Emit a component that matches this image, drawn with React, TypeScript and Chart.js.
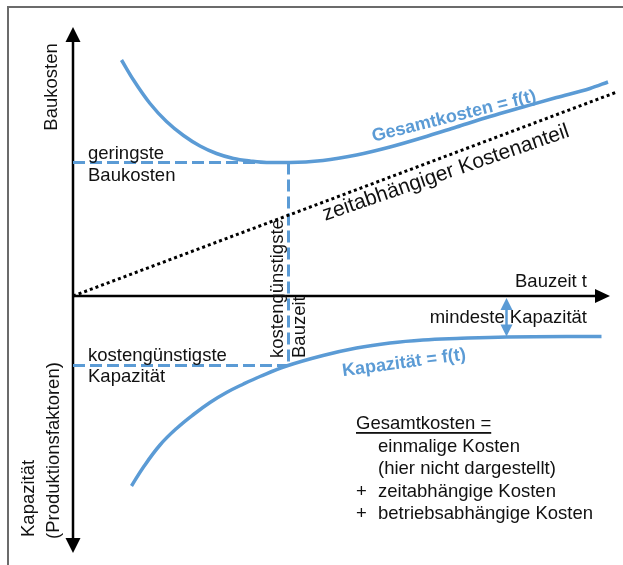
import React, { useEffect, useRef } from "react";
import { Chart, registerables } from "chart.js";
Chart.register(...registerables);

// Bauzeit t (x) and cost / capacity values (y), read from the schematic
const totalCostT = [9.7, 12.1, 15.4, 18.7, 22.1, 25.4, 28.7, 32.1, 35.4, 38.7, 43.4, 50.0, 56.7, 63.4, 70.0, 76.7, 83.4, 90.0, 96.7, 103.4, 107.0];
const totalCostV = [47.2, 43.2, 38.5, 34.9, 32.1, 30.0, 28.5, 27.5, 27.0, 26.7, 26.7, 27.1, 28.2, 29.8, 31.7, 33.8, 35.9, 37.8, 39.7, 41.5, 42.8];

const capacityT = [11.7, 14.1, 17.4, 20.7, 24.1, 27.4, 30.7, 34.1, 37.4, 42.7, 50.0, 56.7, 63.4, 70.0, 76.7, 86.7, 105.7];
const capacityV = [-38.0, -34.2, -29.8, -26.5, -23.7, -21.3, -19.3, -17.6, -16.1, -14.0, -11.9, -10.4, -9.4, -8.8, -8.5, -8.2, -8.1];

const timeCostT = [0, 108.8];
const timeCostV = [0, 40.8];

const optimumT = 43.1;
const minCostV = 26.7;
const optimumCapV = -13.9;
const minCapacityV = -8.1;
const minCapacityT = 86.7;

const axisXEnd = 107.4;
const axisYTop = 53.8;
const axisYBottom = -51.4;

const BLUE = "#5b9bd5";
const FONT = '"Liberation Sans", Arial, sans-serif';
const BASE_FONT = `18.5px ${FONT}`;

const pts = (xs: number[], ys: number[]) => xs.map((x, i) => ({ x, y: ys[i] }));

const diagramPlugin = {
  id: "diagram",
  afterDatasetsDraw(chart: any) {
    const ctx = chart.ctx as CanvasRenderingContext2D;
    const xs = chart.scales.x;
    const ys = chart.scales.y;
    const px = (t: number) => xs.getPixelForValue(t);
    const py = (v: number) => ys.getPixelForValue(v);

    const tri = (a: number[], b: number[], c: number[], color: string) => {
      ctx.beginPath();
      ctx.moveTo(a[0], a[1]);
      ctx.lineTo(b[0], b[1]);
      ctx.lineTo(c[0], c[1]);
      ctx.closePath();
      ctx.fillStyle = color;
      ctx.fill();
    };

    ctx.save();
    // axis arrowheads
    const ox = px(0);
    const topY = py(axisYTop);
    tri([ox, topY], [ox - 7.5, topY + 15], [ox + 7.5, topY + 15], "#000");
    const botY = py(axisYBottom);
    tri([ox, botY], [ox - 7.5, botY - 15], [ox + 7.5, botY - 15], "#000");
    const rx = px(axisXEnd);
    const oy = py(0);
    tri([rx, oy], [rx - 15, oy - 7], [rx - 15, oy + 7], "#000");

    const text = (
      s: string,
      t: number,
      v: number,
      opts: { align?: CanvasTextAlign; rot?: number; font?: string; color?: string; underline?: boolean } = {}
    ) => {
      ctx.save();
      ctx.translate(px(t), py(v));
      ctx.rotate(((opts.rot || 0) * Math.PI) / 180);
      ctx.font = opts.font || BASE_FONT;
      ctx.fillStyle = opts.color || "#111";
      ctx.textAlign = opts.align || "left";
      ctx.textBaseline = "middle";
      ctx.fillText(s, 0, 0);
      if (opts.underline) {
        const w = ctx.measureText(s).width;
        ctx.fillRect(0, 8, w, 1.8);
      }
      ctx.restore();
    };

    text("Baukosten", -4.2, 41.8, { align: "center", rot: -90 });
    text("geringste", 3.0, 28.4);
    text("Baukosten", 3.0, 24.0);
    text("kostengünstigste", 3.0, -11.9);
    text("Kapazität", 3.0, -16.1);
    text("kostengünstigste", 40.9, -12.4, { rot: -90 });
    text("Bauzeit", 45.4, -12.4, { rot: -90 });
    text("Bauzeit t", 102.8, 2.8, { align: "right" });
    text("mindeste Kapazität", 102.8, -4.4, { align: "right" });
    text("Gesamtkosten = f(t)", 76.2, 35.9, { align: "center", rot: -14, font: `bold 18px ${FONT}`, color: BLUE });
    text("zeitabhängiger Kostenanteil", 74.6, 24.6, { align: "center", rot: -19, font: `21px ${FONT}` });
    text("Kapazität = f(t)", 66.2, -13.4, { align: "center", rot: -7.6, font: `bold 18px ${FONT}`, color: BLUE });
    text("Kapazität", -8.9, -48.2, { rot: -90 });
    text("(Produktionsfaktoren)", -3.9, -48.6, { rot: -90 });

    text("Gesamtkosten =", 56.6, -25.6, { underline: true });
    text("einmalige Kosten", 61.0, -30.1);
    text("(hier nicht dargestellt)", 61.0, -34.5);
    text("+", 56.6, -39.1);
    text("zeitabhängige Kosten", 61.0, -39.1);
    text("+", 56.6, -43.5);
    text("betriebsabhängige Kosten", 61.0, -43.5);

    // double arrow "mindeste Kapazität"
    const ax = px(minCapacityT);
    const a1 = py(0) + 2;
    const a2 = py(minCapacityV);
    ctx.strokeStyle = BLUE;
    ctx.lineWidth = 2.5;
    ctx.beginPath();
    ctx.moveTo(ax, a1 + 10);
    ctx.lineTo(ax, a2 - 10);
    ctx.stroke();
    tri([ax, a1], [ax - 6, a1 + 12], [ax + 6, a1 + 12], BLUE);
    tri([ax, a2], [ax - 6, a2 - 12], [ax + 6, a2 - 12], BLUE);

    // frame (top and left edges of the figure)
    ctx.strokeStyle = "#6b6b6b";
    ctx.lineWidth = 2;
    ctx.beginPath();
    ctx.moveTo(8, chart.height);
    ctx.lineTo(8, 7);
    ctx.lineTo(chart.width, 7);
    ctx.stroke();
    ctx.restore();
  },
};

export default function App() {
  const ref = useRef<HTMLCanvasElement | null>(null);
  useEffect(() => {
    if (!ref.current) return;
    const line = (data: any[], extra: any) => ({
      data,
      showLine: true,
      pointRadius: 0,
      fill: false,
      clip: false,
      ...extra,
    });
    const dash = [12, 5];
    const chart = new Chart(ref.current, {
      type: "scatter",
      data: {
        datasets: [
          line(pts(totalCostT, totalCostV), { borderColor: BLUE, borderWidth: 3.5, cubicInterpolationMode: "monotone", label: "Gesamtkosten" }),
          line(pts(capacityT, capacityV), { borderColor: BLUE, borderWidth: 3.5, tension: 0.4, label: "Kapazität" }),
          line(pts(timeCostT, timeCostV), { borderColor: "#000", borderWidth: 3, borderDash: [3, 3], label: "zeitabhängig" }),
          line([{ x: 0, y: minCostV }, { x: optimumT, y: minCostV }], { borderColor: BLUE, borderWidth: 3, borderDash: dash }),
          line([{ x: optimumT, y: minCostV }, { x: optimumT, y: optimumCapV }], { borderColor: BLUE, borderWidth: 3, borderDash: dash }),
          line([{ x: 0, y: optimumCapV }, { x: optimumT, y: optimumCapV }], { borderColor: BLUE, borderWidth: 3, borderDash: dash }),
          line([{ x: 0, y: 0 }, { x: axisXEnd - 2, y: 0 }], { borderColor: "#000", borderWidth: 2.5 }),
          line([{ x: 0, y: axisYTop - 2 }, { x: 0, y: axisYBottom + 2 }], { borderColor: "#000", borderWidth: 2.5 }),
        ],
      },
      options: {
        animation: false,
        responsive: false,
        devicePixelRatio: 1,
        layout: { padding: 0 },
        plugins: { legend: { display: false }, tooltip: { enabled: false } },
        scales: {
          x: { type: "linear", min: -14.6, max: 110, display: false },
          y: { type: "linear", min: -53.8, max: 59.2, display: false },
        },
      },
      plugins: [diagramPlugin],
    });
    return () => chart.destroy();
  }, []);
  return (
    <div style={{ position: "fixed", left: 0, top: 0, width: 623, height: 565, background: "#fff" }}>
      <canvas ref={ref} width={623} height={565} style={{ display: "block" }} />
    </div>
  );
}
